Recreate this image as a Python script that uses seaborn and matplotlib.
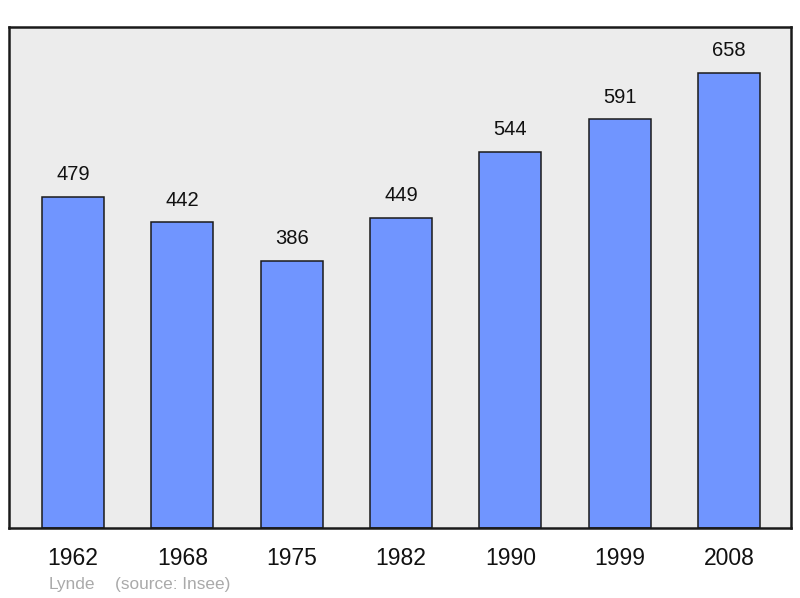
import matplotlib
matplotlib.use("Agg")
import matplotlib.pyplot as plt
import seaborn as sns
import pandas as pd

years = ["1962", "1968", "1975", "1982", "1990", "1999", "2008"]
population = [479, 442, 386, 449, 544, 591, 658]
commune = "Lynde"
source = "(source: Insee)"

df = pd.DataFrame({"year": years, "population": population})

sns.set_theme(style="white")
plt.rcParams['font.family'] = ['Liberation Sans', 'DejaVu Sans']

fig = plt.figure(figsize=(8, 5.98), dpi=100)
ax = fig.add_axes([9 / 800, 70 / 598, 782 / 800, 501 / 598])
ax.set_facecolor('#ececec')

sns.barplot(data=df, x='year', y='population', color='#7095ff', saturation=1,
            width=0.567, edgecolor='#1a1a1a', linewidth=1.1, ax=ax)

for i, v in enumerate(population):
    ax.text(i, v + 32, str(v), ha='center', va='center', fontsize=14.5, color='#111111')

ax.set_xlim(-0.585, 6.567)
ax.set_ylim(0, 724.5)
ax.set_yticks([])
ax.set_xlabel('')
ax.set_ylabel('')
ax.tick_params(axis='x', length=0, labelsize=16.5, pad=14, colors='#111111')
for s in ax.spines.values():
    s.set_visible(True)
    s.set_color('#1a1a1a')
    s.set_linewidth(1.8)

fig.text(49 / 800, 1 - 584 / 598, commune, fontsize=12.4, color='#aaaaaa', va='center')
fig.text(115 / 800, 1 - 584 / 598, source, fontsize=12.4, color='#aaaaaa', va='center')

fig.savefig('out.png', dpi=100)
